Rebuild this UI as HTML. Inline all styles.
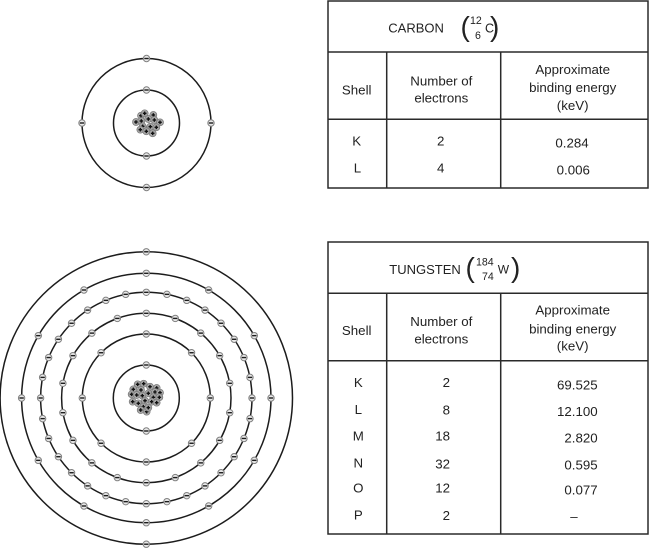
<!DOCTYPE html>
<html><head><meta charset="utf-8">
<style>
html,body{margin:0;padding:0;background:#fff;}
svg{display:block;}
text{font-family:"Liberation Sans",sans-serif;font-size:13.3px;fill:#222;}
.m{text-anchor:middle;}
.e{text-anchor:end;}
.s{font-size:10.6px;}
.p{font-size:28px;fill:#222;}
</style></head><body>
<svg id="s" xmlns="http://www.w3.org/2000/svg" width="650" height="548" viewBox="0 0 650 548">
<g id="rings" fill="none" stroke="#1c1c1c" stroke-width="1.5">
<circle cx="146.5" cy="123" r="64.5"/>
<circle cx="146.5" cy="123" r="33"/>
<circle cx="146.3" cy="398" r="146.2"/>
<circle cx="146.3" cy="398" r="124.7"/>
<circle cx="146.3" cy="398" r="105.7"/>
<circle cx="146.3" cy="398" r="84.7"/>
<circle cx="146.3" cy="398" r="64"/>
<circle cx="146.3" cy="398" r="33"/>
</g>
<g id="dots"></g>
<g fill="none" stroke="#2a2a2a" stroke-width="1.5">
<rect x="328" y="1" width="320" height="187"/>
<path d="M328 52H648M328 119.3H648M386.7 52V188M500.7 52V188"/>
<rect x="328" y="242" width="320" height="292"/>
<path d="M328 293.3H648M328 360.7H648M386.7 293.3V534M500.7 293.3V534"/>
</g>
<text x="388.3" y="32.7" style="font-size:13px">CARBON</text>
<text x="460.5" y="36" class="p">(</text>
<text x="490" y="36" class="p">)</text>
<text x="470" y="24" class="s">12</text>
<text x="475" y="39" class="s">6</text>
<text x="485" y="32.3" style="font-size:12.5px">C</text>
<text x="356.7" y="94.3" class="m">Shell</text>
<text x="441.3" y="85.7" class="m">Number of</text>
<text x="441.3" y="102.7" class="m">electrons</text>
<text x="572.7" y="74" class="m">Approximate</text>
<text x="572.7" y="92" class="m">binding energy</text>
<text x="572.7" y="110" class="m">(keV)</text>
<text x="356.7" y="145.3" class="m">K</text>
<text x="357.5" y="172.3" class="m">L</text>
<text x="440.7" y="145.3" class="m">2</text>
<text x="440.7" y="172.3" class="m">4</text>
<text x="572" y="147.7" class="m">0.284</text>
<text x="573.3" y="174.3" class="m">0.006</text>
<text x="389.3" y="274" style="font-size:13px">TUNGSTEN</text>
<text x="465.5" y="277" class="p">(</text>
<text x="511" y="277" class="p">)</text>
<text x="476" y="265.7" class="s">184</text>
<text x="482" y="280" class="s">74</text>
<text x="497.7" y="273.3" style="font-size:12px">W</text>
<text x="356.7" y="335" class="m">Shell</text>
<text x="441.3" y="326" class="m">Number of</text>
<text x="441.3" y="343.7" class="m">electrons</text>
<text x="572.7" y="314.7" class="m">Approximate</text>
<text x="572.7" y="333.3" class="m">binding energy</text>
<text x="572.7" y="350.7" class="m">(keV)</text>
<text x="358.3" y="387" class="m">K</text>
<text x="358.3" y="414" class="m">L</text>
<text x="358.3" y="440.7" class="m">M</text>
<text x="358.3" y="467.3" class="m">N</text>
<text x="358.3" y="492.7" class="m">O</text>
<text x="358.3" y="519.3" class="m">P</text>
<text x="450" y="387" class="e">2</text>
<text x="450" y="414.7" class="e">8</text>
<text x="450" y="440.7" class="e">18</text>
<text x="450" y="468.3" class="e">32</text>
<text x="450" y="492.7" class="e">12</text>
<text x="450" y="520" class="e">2</text>
<text x="597.7" y="389.3" class="e">69.525</text>
<text x="597.7" y="416" class="e">12.100</text>
<text x="597.7" y="442.7" class="e">2.820</text>
<text x="597.7" y="469.3" class="e">0.595</text>
<text x="597.7" y="494.3" class="e">0.077</text>
<text x="574" y="521" class="m">–</text>
</svg>
<script>
(function(){
var g=document.getElementById('dots'),NS='http://www.w3.org/2000/svg';
function el(n,a){var e=document.createElementNS(NS,n);for(var k in a)e.setAttribute(k,a[k]);g.appendChild(e);}
function electron(x,y){
 el('circle',{cx:x,cy:y,r:3.2,fill:'#e8e8e8',stroke:'#808080','stroke-width':1});
 el('rect',{x:x-2.2,y:y-0.7,width:4.4,height:1.4,fill:'#1c1c1c'});
}
function ring(cx,cy,r,n){for(var i=0;i<n;i++){var a=i*2*Math.PI/n;electron(cx+r*Math.sin(a),cy-r*Math.cos(a));}}
function nuc(x,y){
 el('circle',{cx:x,cy:y,r:3.5,fill:'#a8a8a8',stroke:'#777','stroke-width':0.7});
 el('rect',{x:x-1.8,y:y-0.7,width:3.6,height:1.4,fill:'#111'});
 el('rect',{x:x-0.7,y:y-1.8,width:1.4,height:3.6,fill:'#111'});
}
ring(146.5,123,64.5,4);
ring(146.5,123,33,2);
ring(146.3,398,146.2,2);
ring(146.3,398,124.7,12);
ring(146.3,398,105.7,32);
ring(146.3,398,84.7,18);
ring(146.3,398,64,8);
ring(146.3,398,33,2);
[[213,227],[224,220],[250,225],[198,246],[214,243],[235,237],[253,240],[270,247],[218,259],[241,260],[259,262],[211,269],[229,274],[248,280]]
.forEach(function(p){nuc(70+p[0]/3,40+p[1]/3);});
[[83,73],[101,71],[120,80],[140,84],[70,88],[93,90],[115,100],[135,96],[150,98],[65,103],[80,105],[97,107],[130,112],[148,112],[68,125],[85,130],[105,122],[125,125],[140,128],[100,140],[92,150],[110,155],[115,143]]
.forEach(function(p){nuc(110+p[0]/3,360+p[1]/3);});
})();
</script>
</body></html>
